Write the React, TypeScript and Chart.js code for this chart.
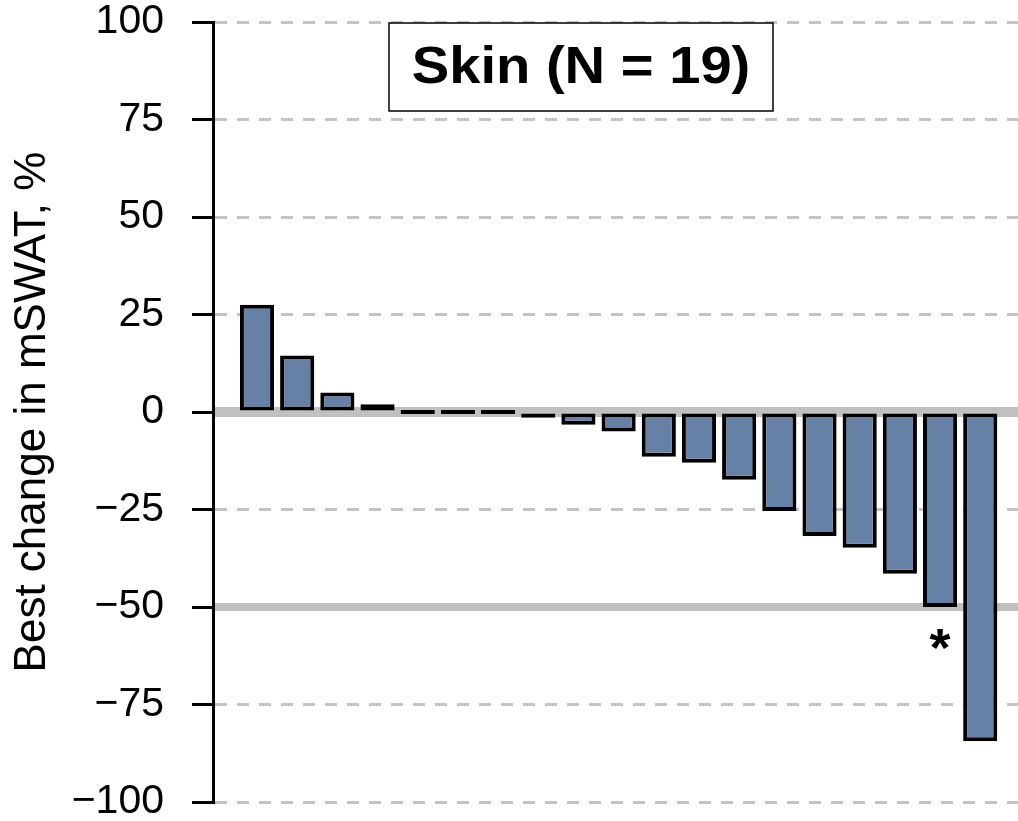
import React, { useEffect, useRef } from "react";
import { Chart, registerables } from "chart.js";

Chart.register(...registerables);

const patients = [1, 2, 3, 4, 5, 6, 7, 8, 9, 10, 11, 12, 13, 14, 15, 16, 17, 18, 19];
const bestChange = [27.5, 14.5, 5, 2, 0, 0, 0, -1.5, -3.3, -5, -11.5, -13, -17.4, -25.4, -31.8, -34.8, -41.5, -50, -84.4];
const yTicks = [100, 75, 50, 25, 0, -25, -50, -75, -100];
const refLines = [0, -50];
const starredPatients = [18];
const titleText = "Skin (N = 19)";
const yAxisTitle = "Best change in mSWAT, %";

const FONT = "'Liberation Sans', Arial, sans-serif";

const overlayPlugin = {
  id: "overlay",
  beforeDatasetsDraw(chart: any) {
    const { ctx, chartArea, scales } = chart;
    ctx.save();
    ctx.strokeStyle = "#c0c0c0";
    refLines.forEach((v, i) => {
      const y = scales.y.getPixelForValue(v);
      ctx.lineWidth = i === 0 ? 10 : 8;
      ctx.beginPath();
      ctx.moveTo(chartArea.left + 2, y);
      ctx.lineTo(chartArea.right, y);
      ctx.stroke();
    });
    ctx.restore();
  },
  afterDatasetsDraw(chart: any) {
    const { ctx, chartArea, scales } = chart;
    ctx.save();
    // title box
    const bx = chartArea.left + 176;
    const by = chartArea.top + 1;
    const bw = 384;
    const bh = 88;
    ctx.fillStyle = "#ffffff";
    ctx.fillRect(bx, by, bw, bh);
    ctx.strokeStyle = "#000000";
    ctx.lineWidth = 1.5;
    ctx.strokeRect(bx, by, bw, bh);
    ctx.fillStyle = "#000000";
    ctx.font = `bold 52px ${FONT}`;
    ctx.textAlign = "center";
    ctx.textBaseline = "middle";
    ctx.save();
    ctx.translate(bx + bw / 2, by + bh / 2 + 2);
    ctx.scale(1.08, 1);
    ctx.fillText(titleText, 0, 0);
    ctx.restore();
    // asterisk
    ctx.font = `bold 54px ${FONT}`;
    starredPatients.forEach((p) => {
      const idx = patients.indexOf(p);
      const x = scales.x.getPixelForValue(p);
      const y = scales.y.getPixelForValue(bestChange[idx]);
      ctx.fillText("*", x, y + 44);
    });
    ctx.restore();
  },
};

export default function App() {
  const canvasRef = useRef<HTMLCanvasElement | null>(null);

  useEffect(() => {
    const canvas = canvasRef.current;
    if (!canvas) return;
    const chart = new Chart(canvas, {
      type: "bar",
      data: {
        datasets: [
          {
            data: patients.map((p, i) => ({ x: p, y: bestChange[i] })),
            backgroundColor: "#6780a6",
            borderColor: "#000000",
            borderWidth: 4,
            borderSkipped: false,
            categoryPercentage: 1,
            barPercentage: 0.85,
            minBarLength: 4,
          },
        ],
      },
      options: {
        responsive: false,
        animation: false,
        devicePixelRatio: 1,
        layout: { padding: { top: 0, bottom: 0, right: 0, left: 0 } },
        plugins: {
          legend: { display: false },
          tooltip: { enabled: false },
          title: { display: false },
        },
        scales: {
          x: {
            type: "linear",
            display: false,
            min: -0.095,
            max: 19.94,
            offset: false,
          },
          y: {
            min: -100,
            max: 100,
            afterFit(scale: any) {
              scale.width = 213;
              scale.paddingTop = 22;
              scale.paddingBottom = 19;
            },
            afterBuildTicks(scale: any) {
              scale.ticks = yTicks.map((v) => ({ value: v }));
            },
            ticks: {
              color: "#000000",
              font: { family: FONT, size: 41, lineHeight: 1 },
              padding: 28,
              callback: (v: any) => String(v).replace("-", "\u2212"),
            },
            grid: {
              color: (c: any) =>
                c.tick && refLines.includes(c.tick.value) ? "rgba(0,0,0,0)" : "#c4c4c4",
              lineWidth: 3,
              tickColor: "#000000",
              tickWidth: 3,
              tickLength: 21,
              drawTicks: true,
            },
            border: {
              display: true,
              color: "#000000",
              width: 3,
              dash: [12, 10],
            },
            title: {
              display: true,
              text: yAxisTitle,
              color: "#000000",
              font: { family: FONT, size: 44, lineHeight: 1.2 },
              padding: { top: 6, bottom: 0 },
            },
          },
        },
      },
      plugins: [overlayPlugin],
    });
    return () => chart.destroy();
  }, []);

  return (
    <div style={{ position: "absolute", left: 0, top: 0, width: 1018, height: 821, background: "#fff" }}>
      <canvas ref={canvasRef} width={1018} height={821} style={{ width: "1018px", height: "821px", display: "block" }} />
    </div>
  );
}
